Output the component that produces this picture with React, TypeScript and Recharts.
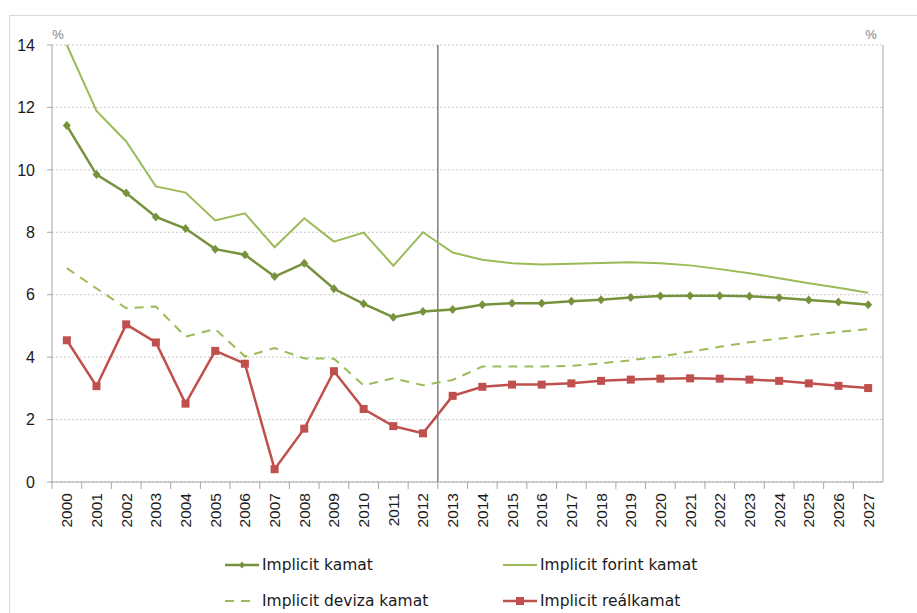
import React from 'react';
import {
  LineChart,
  Line,
  XAxis,
  YAxis,
  CartesianGrid,
  ReferenceLine,
  Legend,
  Label,
} from 'recharts';

const years = [
  '2000', '2001', '2002', '2003', '2004', '2005', '2006', '2007', '2008', '2009',
  '2010', '2011', '2012', '2013', '2014', '2015', '2016', '2017', '2018', '2019',
  '2020', '2021', '2022', '2023', '2024', '2025', '2026', '2027',
];

const implicitKamat = [
  11.42, 9.85, 9.26, 8.49, 8.12, 7.46, 7.28, 6.58, 7.01, 6.19,
  5.71, 5.28, 5.46, 5.53, 5.68, 5.73, 5.73, 5.79, 5.84, 5.91,
  5.96, 5.97, 5.97, 5.95, 5.9, 5.83, 5.77, 5.68,
];

const forintKamat = [
  14.0, 11.89, 10.91, 9.47, 9.27, 8.38, 8.61, 7.52, 8.45, 7.7,
  7.99, 6.93, 8.0, 7.35, 7.12, 7.01, 6.97, 6.99, 7.02, 7.04,
  7.01, 6.94, 6.82, 6.69, 6.53, 6.37, 6.22, 6.06,
];

const devizaKamat = [
  6.85, 6.2, 5.57, 5.62, 4.66, 4.9, 4.02, 4.29, 3.96, 3.95,
  3.1, 3.32, 3.1, 3.27, 3.7, 3.7, 3.7, 3.72, 3.8, 3.9,
  4.02, 4.17, 4.33, 4.48, 4.59, 4.71, 4.81, 4.9,
];

const realKamat = [
  4.54, 3.07, 5.05, 4.47, 2.51, 4.2, 3.79, 0.41, 1.71, 3.55,
  2.34, 1.79, 1.56, 2.76, 3.05, 3.12, 3.12, 3.16, 3.24, 3.28,
  3.31, 3.32, 3.31, 3.28, 3.24, 3.16, 3.08, 3.01,
];

const yTicks = [0, 2, 4, 6, 8, 10, 12, 14];
const forecastStart = '2012';

const data = years.map((year, i) => ({
  year,
  kamat: implicitKamat[i],
  forint: forintKamat[i],
  deviza: devizaKamat[i],
  real: realKamat[i],
}));

const C_KAMAT = '#76923C';
const C_FORINT = '#9BBB59';
const C_DEVIZA = '#9BBB59';
const C_REAL = '#C0504D';
const AXIS = '#a6a6a6';
const NUM_FONT = '"Liberation Sans", Arial, sans-serif';
const TEXT_FONT = '"DejaVu Sans", Verdana, sans-serif';

const DiamondDot = (props: any) => {
  const { cx, cy, index } = props;
  if (cx == null || cy == null) return <g key={`dk-${index}`} />;
  return (
    <path
      key={`dk-${index}`}
      d={`M${cx},${cy - 4.5}L${cx + 4},${cy}L${cx},${cy + 4.5}L${cx - 4},${cy}Z`}
      fill={C_KAMAT}
    />
  );
};

const SquareDot = (props: any) => {
  const { cx, cy, index } = props;
  if (cx == null || cy == null) return <g key={`sq-${index}`} />;
  return <rect key={`sq-${index}`} x={cx - 4} y={cy - 4} width={8} height={8} fill={C_REAL} />;
};

// year label, with the small tick mark set on the band boundary
const YearTick = (props: any) => {
  const { x, y, payload } = props;
  const off = payload && payload.offset ? payload.offset : 0;
  return (
    <g>
      <line x1={x - off} x2={x - off} y1={y - 8} y2={y - 1} stroke={AXIS} />
      <text
        x={x}
        y={y + 3}
        transform={`rotate(-90, ${x}, ${y + 3})`}
        textAnchor="end"
        dominantBaseline="central"
        fontFamily={NUM_FONT}
        fontSize={15.5}
        fill="#1a1a1a"
      >
        {payload.value}
      </text>
    </g>
  );
};

const legendItems = [
  { name: 'Implicit kamat', kind: 'diamond', col: 0, row: 0 },
  { name: 'Implicit forint kamat', kind: 'line', col: 1, row: 0 },
  { name: 'Implicit deviza kamat', kind: 'dash', col: 0, row: 1 },
  { name: 'Implicit reálkamat', kind: 'square', col: 1, row: 1 },
];

const LegendIcon = ({ kind }: { kind: string }) => (
  <svg width={36} height={12} style={{ display: 'block' }}>
    {kind === 'diamond' && (
      <>
        <line x1={0} x2={34} y1={6} y2={6} stroke={C_KAMAT} strokeWidth={2.5} />
        <path d="M17,2.5L20,6L17,9.5L14,6Z" fill={C_KAMAT} />
      </>
    )}
    {kind === 'line' && <line x1={0} x2={34} y1={6} y2={6} stroke={C_FORINT} strokeWidth={2} />}
    {kind === 'dash' && (
      <line x1={0} x2={28} y1={6} y2={6} stroke={C_DEVIZA} strokeWidth={2} strokeDasharray="9 7" />
    )}
    {kind === 'square' && (
      <>
        <line x1={0} x2={34} y1={6} y2={6} stroke={C_REAL} strokeWidth={2.5} />
        <rect x={13} y={2} width={8} height={8} fill={C_REAL} />
      </>
    )}
  </svg>
);

const ChartLegend = () => (
  <div style={{ position: 'relative', width: 917, height: 81 }}>
    {legendItems.map((it) => (
      <div
        key={it.name}
        style={{
          position: 'absolute',
          left: it.col === 0 ? 225 : 503,
          top: it.row === 0 ? 24 : 60,
          height: 18,
          display: 'flex',
          alignItems: 'center',
          fontFamily: TEXT_FONT,
          fontSize: 15.5,
          color: '#1a1a1a',
          whiteSpace: 'nowrap',
        }}
      >
        <LegendIcon kind={it.kind} />
        <span style={{ marginLeft: 1 }}>{it.name}</span>
      </div>
    ))}
  </div>
);

const PercentLabel = (side: 'left' | 'right') => (props: any) => {
  const vb = props.viewBox || {};
  const x = side === 'left' ? vb.x + vb.width + 6 : vb.x - 12;
  return (
    <text
      x={x}
      y={vb.y - 6}
      textAnchor="middle"
      fontFamily={NUM_FONT}
      fontSize={13}
      fill="#7f7f7f"
    >
      %
    </text>
  );
};

export default function App() {
  return (
    <div style={{ position: 'relative', width: 917, height: 613, background: '#fff', overflow: 'hidden' }}>
      <style>{'body{margin:0;overflow:hidden;}'}</style>
      <div
        style={{
          position: 'absolute',
          left: 9,
          top: 15,
          width: 920,
          height: 620,
          borderTop: '1px solid #d9d9d9',
          borderLeft: '1px solid #d9d9d9',
        }}
      />
      <div style={{ position: 'absolute', left: 0, top: 0 }}>
        <LineChart width={917} height={613} data={data} margin={{ top: 45, right: 0, bottom: 0, left: 0 }}>
          <CartesianGrid horizontal vertical={false} stroke="#c8c8c8" strokeDasharray="2 2" yAxisId="left" />
          <XAxis
            dataKey="year"
            scale="band"
            interval={0}
            height={50}
            tickLine={false}
            axisLine={{ stroke: AXIS }}
            tick={<YearTick />}
          />
          <YAxis
            yAxisId="left"
            domain={[0, 14]}
            ticks={yTicks}
            width={52}
            tickSize={5}
            tickMargin={12}
            axisLine={{ stroke: AXIS }}
            tickLine={{ stroke: AXIS }}
            tick={{ fontFamily: NUM_FONT, fontSize: 16, fill: '#1a1a1a' }}
          >
            <Label content={PercentLabel('left')} />
          </YAxis>
          <YAxis
            yAxisId="right"
            orientation="right"
            domain={[0, 14]}
            ticks={yTicks}
            width={34}
            tickSize={5}
            tickMargin={9}
            axisLine={{ stroke: AXIS }}
            tickLine={{ stroke: AXIS }}
            tick={{ fontFamily: NUM_FONT, fontSize: 16, fill: '#1a1a1a', textAnchor: 'start' }}
          >
            <Label content={PercentLabel('right')} />
          </YAxis>
          <ReferenceLine
            yAxisId="left"
            x={forecastStart}
            position="end"
            stroke="#7f7f7f"
            strokeWidth={1.5}
          />
          <Line
            yAxisId="left"
            dataKey="forint"
            name="Implicit forint kamat"
            stroke={C_FORINT}
            strokeWidth={2}
            dot={false}
            isAnimationActive={false}
          />
          <Line
            yAxisId="left"
            dataKey="deviza"
            name="Implicit deviza kamat"
            stroke={C_DEVIZA}
            strokeWidth={2}
            strokeDasharray="9 7"
            dot={false}
            isAnimationActive={false}
          />
          <Line
            yAxisId="left"
            dataKey="real"
            name="Implicit reálkamat"
            stroke={C_REAL}
            strokeWidth={2.5}
            dot={SquareDot}
            isAnimationActive={false}
          />
          <Line
            yAxisId="left"
            dataKey="kamat"
            name="Implicit kamat"
            stroke={C_KAMAT}
            strokeWidth={2.5}
            dot={DiamondDot}
            isAnimationActive={false}
          />
          <Legend
            verticalAlign="bottom"
            wrapperStyle={{ left: 0, width: 917, bottom: 0 }}
            content={() => <ChartLegend />}
          />
        </LineChart>
      </div>
    </div>
  );
}
